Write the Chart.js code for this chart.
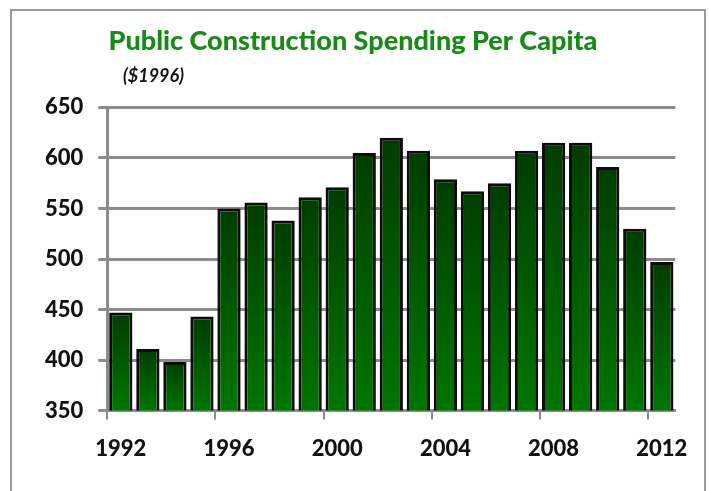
<!DOCTYPE html>
<html>
<head>
<meta charset="utf-8">
<script src="https://cdn.jsdelivr.net/npm/chart.js@4"></script>
<style>
    body { margin: 0; background: #fff; }
    #frame {
        position: absolute; left: 10px; top: 9px;
        width: 696px; height: 490px;
        border: 2px solid #9a9a9a; box-sizing: border-box;
    }
    #box { position: absolute; left: 0; top: 0; width: 692px; height: 486px; }
</style>
</head>
<body>
<div id="frame"><div id="box"><canvas id="chart"></canvas></div></div>
<script>
const years = ['1992', '1993', '1994', '1995', '1996', '1997', '1998', '1999', '2000', '2001', '2002',
    '2003', '2004', '2005', '2006', '2007', '2008', '2009', '2010', '2011', '2012'];
const spending = [447, 411, 398, 443, 550, 556, 538, 561, 571, 605, 620,
    607, 579, 567, 575, 607, 615, 615, 591, 530, 497];
const yTicks = [350, 400, 450, 500, 550, 600, 650];

const FONT = 'Lato, "Open Sans", "Liberation Sans", sans-serif';

// bar fill: dark at the top of each bar, lighter green at its base
function barGradient(context) {
    const chart = context.chart;
    const area = chart.chartArea;
    if (!area || context.raw === undefined) return '#005a00';
    const yScale = chart.scales.y;
    const top = yScale.getPixelForValue(context.raw);
    const bottom = yScale.getPixelForValue(350);
    if (!isFinite(top) || bottom - top < 1) return '#005a00';
    const g = chart.ctx.createLinearGradient(0, top, 0, bottom);
    g.addColorStop(0, '#003d00');
    g.addColorStop(1, '#007600');
    return g;
}

const subtitlePlugin = {
    id: 'unitNote',
    afterDraw(chart) {
        const ctx = chart.ctx;
        ctx.save();
        ctx.font = 'italic bold 18px ' + FONT;
        ctx.fillStyle = '#111';
        ctx.textBaseline = 'middle';
        ctx.fillText('($1996)', 111, 65);
        ctx.restore();
    }
};

new Chart(document.getElementById('chart'), {
    type: 'bar',
    data: {
        labels: years,
        datasets: [{
            label: 'Per capita ($1996)',
            data: spending,
            backgroundColor: barGradient,
            borderColor: '#0c0c0c',
            borderWidth: 3,
            borderSkipped: false,
            barPercentage: 0.86,
            categoryPercentage: 1.0
        }]
    },
    options: {
        responsive: true,
        maintainAspectRatio: false,
        animation: false,
        layout: { padding: { top: 10, left: 18, right: 28, bottom: 19 } },
        scales: {
            x: {
                grid: {
                    display: true,
                    drawOnChartArea: false,
                    tickLength: 9,
                    lineWidth: 2,
                    color: (c) => (c.index % 4 === 0 ? '#8c8c8c' : 'rgba(0,0,0,0)')
                },
                border: { display: true, color: '#8c8c8c', width: 3 },
                ticks: {
                    autoSkip: false,
                    maxRotation: 0,
                    padding: 16,
                    color: '#111',
                    font: { family: FONT, size: 22, weight: 900 },
                    callback: function (value, index) {
                        return index % 4 === 0 ? this.getLabelForValue(value) : '';
                    }
                }
            },
            y: {
                min: 350,
                max: 650,
                afterBuildTicks: (axis) => { axis.ticks = yTicks.map(v => ({ value: v })); },
                grid: { color: '#8c8c8c', lineWidth: 3, tickLength: 9 },
                border: { display: true, color: '#8c8c8c', width: 3 },
                ticks: {
                    padding: 15,
                    color: '#111',
                    font: { family: FONT, size: 22, weight: 900 }
                }
            }
        },
        plugins: {
            legend: { display: false },
            tooltip: { enabled: false },
            title: {
                display: true,
                text: 'Public Construction Spending Per Capita',
                color: '#178a17',
                font: { family: FONT, size: 27, weight: 900 },
                padding: { top: 4, bottom: 50 }
            }
        }
    },
    plugins: [subtitlePlugin]
});
</script>
</body>
</html>
